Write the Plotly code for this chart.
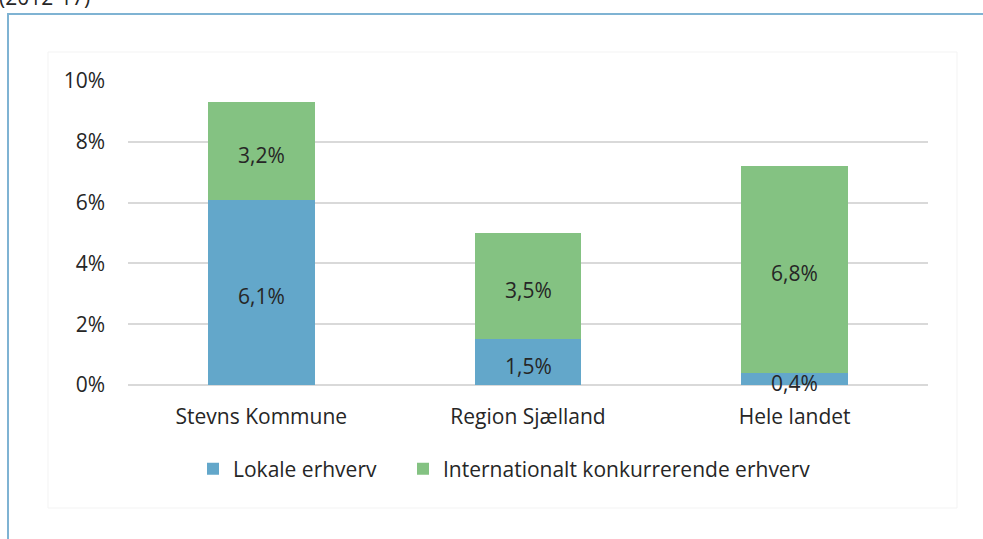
import plotly.graph_objects as go

categories = ["Stevns Kommune", "Region Sjælland", "Hele landet"]
lokale = [6.1, 1.5, 0.4]
international = [3.2, 3.5, 6.8]
series_names = ["Lokale erhverv", "Internationalt konkurrerende erhverv"]
tick_vals = [0, 2, 4, 6, 8, 10]
tick_text = ["0%", "2%", "4%", "6%", "8%", "10%"]

BLUE = "#63a7ca"
GREEN = "#84c282"
FONT = "Open Sans"
FS = 21
TXT = "#262626"

def fmt(v):
    return f"{v:.1f}".replace(".", ",") + "%"

fig = go.Figure()
for name, vals, col, lg in [(series_names[0], lokale, BLUE, "legend"),
                            (series_names[1], international, GREEN, "legend2")]:
    fig.add_trace(go.Bar(
        x=categories, y=vals, name=name, marker=dict(color=col, line=dict(width=0)),
        width=0.4, hoverinfo="skip", legend=lg,
    ))

W, H = 983, 539
L, R, T, B = 128, 55, 81, 154
pw = W - L - R
ph = H - T - B

def px_x(p):
    return (p - L) / pw

def px_y(p):
    return (H - B - p) / ph

# value labels on top of stacked segments, at segment midpoints
annotations = []
for c, a, b in zip(categories, lokale, international):
    for yv, t in [(a / 2, fmt(a)), (a + b / 2, fmt(b))]:
        annotations.append(dict(x=c, y=yv, xref="x", yref="y", text=t, showarrow=False,
                                yshift=-4, font=dict(family=FONT, size=FS, color=TXT)))

annotations.append(dict(text="(2012-17)", xref="paper", yref="paper", x=px_x(-3), y=px_y(13),
                        xanchor="left", yanchor="bottom", showarrow=False,
                        font=dict(size=FS, color=TXT)))

leg_common = dict(orientation="h", xanchor="left", yanchor="middle", font=dict(size=FS),
                  itemwidth=30, bgcolor="rgba(0,0,0,0)")

fig.update_layout(
    width=W, height=H, barmode="stack",
    margin=dict(l=L, r=R, t=T, b=B),
    paper_bgcolor="white", plot_bgcolor="white",
    font=dict(family=FONT, size=FS, color=TXT),
    xaxis=dict(showgrid=False, showline=False, ticks="", tickfont=dict(size=FS),
               ticklabelstandoff=17),
    yaxis=dict(range=[0, 10], tickvals=tick_vals, ticktext=tick_text, showgrid=True,
               gridcolor="#d9d9d9", gridwidth=1.5, zeroline=True, zerolinecolor="#d9d9d9",
               zerolinewidth=1.5, showline=False, ticks="", ticklabelstandoff=22,
               tickfont=dict(size=FS)),
    legend=dict(x=px_x(193), y=px_y(469), **leg_common),
    legend2=dict(x=px_x(403), y=px_y(469), **leg_common),
    showlegend=True,
    shapes=[
        dict(type="rect", xref="paper", yref="paper", x0=px_x(48), x1=px_x(957),
             y0=px_y(508), y1=px_y(52), line=dict(color="#f3f3f3", width=1), layer="below"),
        dict(type="rect", xref="paper", yref="paper", x0=px_x(8), x1=px_x(1010),
             y0=px_y(570), y1=px_y(14), line=dict(color="#7fb3d3", width=2), layer="above"),
    ],
    annotations=annotations,
)

fig.write_html("out.html", config={"displayModeBar": False},
               post_script="document.body.style.margin='0';document.body.style.overflow='hidden';")
